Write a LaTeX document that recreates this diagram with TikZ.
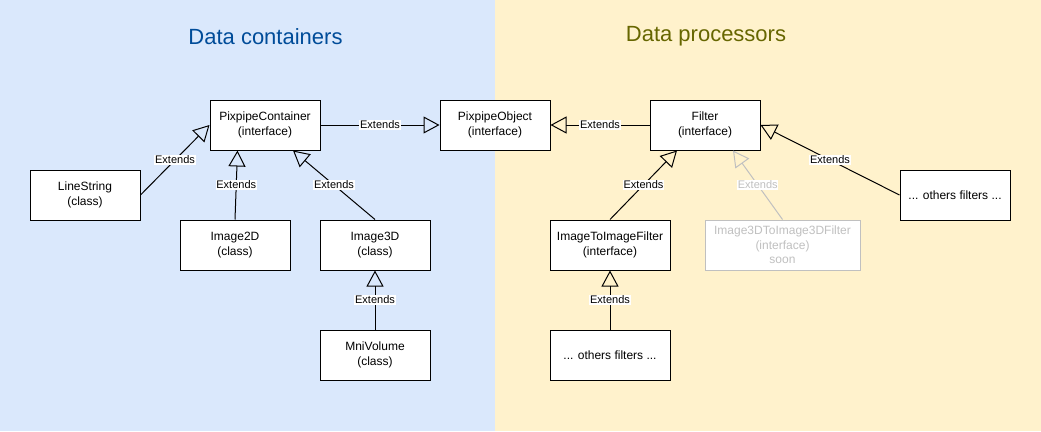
\documentclass[tikz,border=0pt]{standalone}
\usepackage{fontspec}
\setmainfont{Liberation Sans}
\usetikzlibrary{arrows.meta}
\definecolor{panelblue}{HTML}{DAE8FC}
\definecolor{panelyellow}{HTML}{FFF2CC}
\definecolor{titleblue}{HTML}{004C99}
\definecolor{titleolive}{HTML}{666600}
\definecolor{soongray}{HTML}{C0C0C0}
\begin{document}
\begin{tikzpicture}[
	x=1pt, y=-1pt,
	umlbox/.style={draw, fill=white, line width=1pt, minimum width=110pt, minimum height=50pt, inner sep=0pt, align=center, font=\fontsize{12}{14.5}\selectfont},
	paneltitle/.style={font=\fontsize{22}{26}\selectfont},
	extends/.style={-{Triangle[open, length=16pt, width=17pt]}, line width=1pt},
	tag/.style={fill=white, inner sep=0.8pt, font=\fontsize{11}{13}\selectfont},
	soon/.style={draw=soongray, text=soongray}
	]
	\useasboundingbox (0,0) rectangle (1041,431);
	
	% Background panels
	\fill[panelblue] (0,0) rectangle (495,431);
	\fill[panelyellow] (495,0) rectangle (1041,431);
	\node[paneltitle, text=titleblue] (tcont) at (265.5,36.5) {Data containers};
	\node[paneltitle, text=titleolive] (tproc) at (706,36.5) {Data processors};
	
	% Data containers
	\node[umlbox] (cont) at (265,125) {PixpipeContainer\\(interface)};
	\node[umlbox] (line) at (85,195) {LineString\\(class)};
	\node[umlbox] (img2) at (235,245) {Image2D\\(class)};
	\node[umlbox] (img3) at (375,245) {Image3D\\(class)};
	\node[umlbox] (mni) at (375,355) {MniVolume\\(class)};
	
	% Common base
	\node[umlbox] (obj) at (495,125) {PixpipeObject\\(interface)};
	
	% Data processors
	\node[umlbox] (filt) at (705,125) {Filter\\(interface)};
	\node[umlbox, minimum width=120pt] (i2i) at (610,245) {ImageToImageFilter\\(interface)};
	\node[umlbox, soon, minimum width=155pt] (i3d) at (782.5,245) {Image3DToImage3DFilter\\(interface)\\soon};
	\node[umlbox] (oth1) at (955,195) {... others filters ...};
	\node[umlbox, minimum width=120pt] (oth2) at (610,355) {... others filters ...};
	
	% Inheritance: containers
	\draw[extends] (line.east) -- node[tag] {Extends} (cont.west);
	\draw[extends] (img2.north) -- node[tag] {Extends} ([xshift=-27.5pt]cont.south);
	\draw[extends] (img3.north) -- node[tag] {Extends} ([xshift=28pt]cont.south);
	\draw[extends] (mni.north) -- node[tag] {Extends} (img3.south);
	\draw[extends] (cont.east) -- node[tag] {Extends} (obj.west);
	
	% Inheritance: processors
	\draw[extends] (filt.west) -- node[tag] {Extends} (obj.east);
	\draw[extends] (i2i.north) -- node[tag] {Extends} ([xshift=-28pt]filt.south);
	\draw[extends, draw=soongray] (i3d.north) -- node[tag, text=soongray] {Extends} ([xshift=28pt]filt.south);
	\draw[extends] (oth1.west) -- node[tag] {Extends} (filt.east);
	\draw[extends] (oth2.north) -- node[tag] {Extends} (i2i.south);
	
\end{tikzpicture}
\end{document}
